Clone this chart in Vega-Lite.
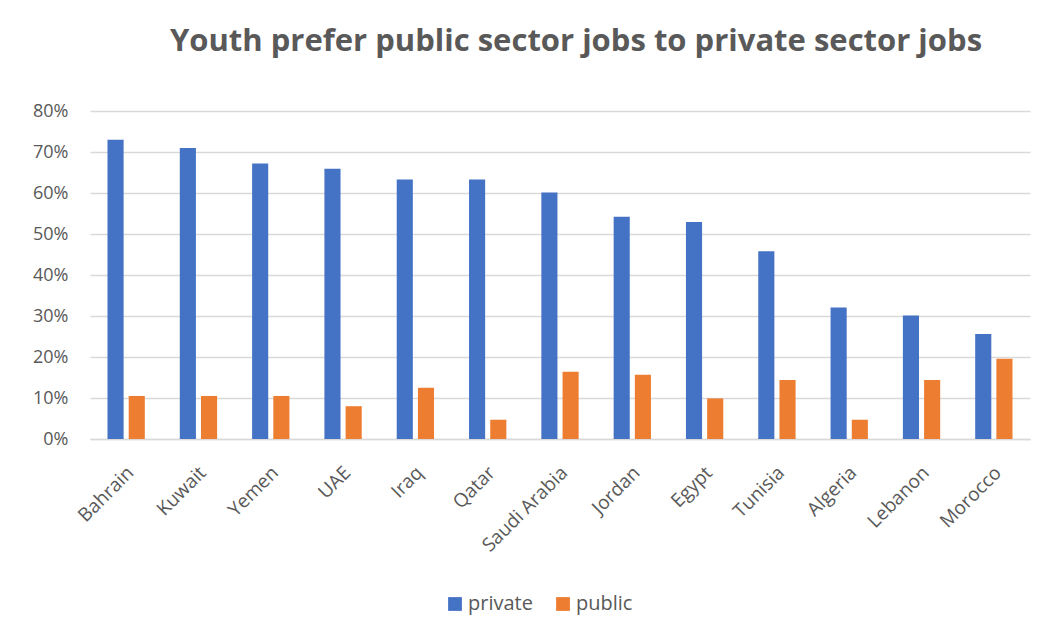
{
  "$schema": "https://vega.github.io/schema/vega-lite/v6.json",
  "autosize": {"type": "none"},
  "width": 940,
  "height": 328,
  "padding": {"left": 90, "top": 111, "right": 18, "bottom": 198},
  "background": "white",
  "title": {
    "text": "Youth prefer public sector jobs to private sector jobs",
    "font": "Open Sans",
    "fontSize": 31,
    "fontWeight": "bold",
    "color": "#595959",
    "anchor": "middle",
    "dx": 16,
    "offset": 44
  },
  "data": {
    "values": [
      {"country": "Bahrain", "sector": "private", "share": 0.73},
      {"country": "Bahrain", "sector": "public", "share": 0.105},
      {"country": "Kuwait", "sector": "private", "share": 0.71},
      {"country": "Kuwait", "sector": "public", "share": 0.105},
      {"country": "Yemen", "sector": "private", "share": 0.672},
      {"country": "Yemen", "sector": "public", "share": 0.105},
      {"country": "UAE", "sector": "private", "share": 0.659},
      {"country": "UAE", "sector": "public", "share": 0.08},
      {"country": "Iraq", "sector": "private", "share": 0.633},
      {"country": "Iraq", "sector": "public", "share": 0.125},
      {"country": "Qatar", "sector": "private", "share": 0.633},
      {"country": "Qatar", "sector": "public", "share": 0.047},
      {"country": "Saudi Arabia", "sector": "private", "share": 0.601},
      {"country": "Saudi Arabia", "sector": "public", "share": 0.164},
      {"country": "Jordan", "sector": "private", "share": 0.542},
      {"country": "Jordan", "sector": "public", "share": 0.157},
      {"country": "Egypt", "sector": "private", "share": 0.529},
      {"country": "Egypt", "sector": "public", "share": 0.099},
      {"country": "Tunisia", "sector": "private", "share": 0.458},
      {"country": "Tunisia", "sector": "public", "share": 0.144},
      {"country": "Algeria", "sector": "private", "share": 0.321},
      {"country": "Algeria", "sector": "public", "share": 0.047},
      {"country": "Lebanon", "sector": "private", "share": 0.301},
      {"country": "Lebanon", "sector": "public", "share": 0.144},
      {"country": "Morocco", "sector": "private", "share": 0.256},
      {"country": "Morocco", "sector": "public", "share": 0.196}
    ]
  },
  "mark": {"type": "bar"},
  "encoding": {
    "x": {
      "field": "country",
      "type": "nominal",
      "sort": null,
      "scale": {"paddingInner": 0.484, "paddingOuter": 0.242},
      "axis": {
        "title": null,
        "labelAngle": -45,
        "labelFont": "Open Sans",
        "labelFontSize": 19,
        "labelColor": "#595959",
        "labelPadding": 24,
        "labelOffset": -2,
        "ticks": false,
        "domain": true,
        "domainColor": "#d9d9d9",
        "domainWidth": 1.5
      }
    },
    "xOffset": {
      "field": "sector",
      "type": "nominal",
      "scale": {"paddingInner": 0.24, "paddingOuter": 0}
    },
    "y": {
      "field": "share",
      "type": "quantitative",
      "scale": {"domain": [0, 0.8]},
      "axis": {
        "title": null,
        "format": ".0%",
        "values": [0, 0.1, 0.2, 0.3, 0.4, 0.5, 0.6, 0.7, 0.8],
        "labelFont": "Open Sans",
        "labelFontSize": 18,
        "labelColor": "#595959",
        "labelPadding": 22,
        "ticks": false,
        "domain": false,
        "grid": true,
        "gridColor": "#d9d9d9",
        "gridWidth": 1.5
      }
    },
    "color": {
      "field": "sector",
      "type": "nominal",
      "scale": {"domain": ["private", "public"], "range": ["#4472c4", "#ed7d31"]},
      "legend": {
        "title": null,
        "orient": "none",
        "direction": "horizontal",
        "legendX": 355,
        "legendY": 483,
        "symbolType": "square",
        "symbolSize": 190,
        "symbolStrokeWidth": 0,
        "labelFont": "Open Sans",
        "labelFontSize": 20,
        "labelColor": "#595959",
        "columnPadding": 20,
        "labelOffset": 3
      }
    }
  },
  "config": {"view": {"stroke": null}}
}
